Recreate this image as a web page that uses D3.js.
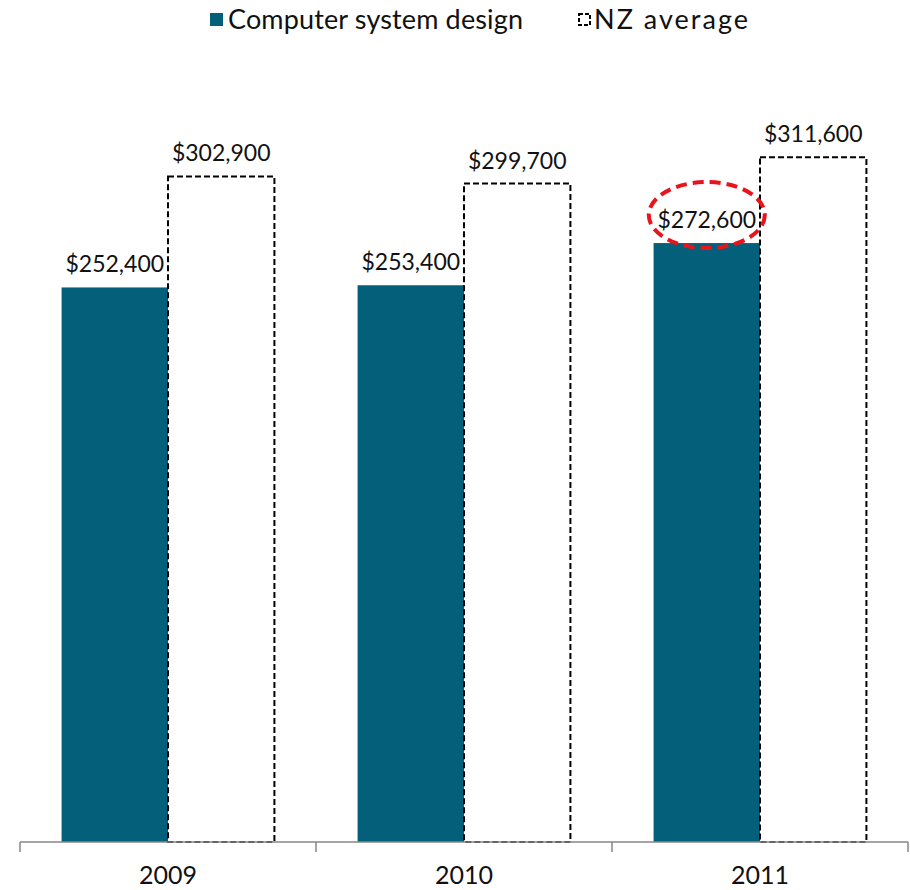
<!DOCTYPE html>
<html>
<head>
<meta charset="utf-8">
<script src="https://cdn.jsdelivr.net/npm/d3@7"></script>
<style>
  body { margin: 0; background: #fff; }
  svg { display: block; font-family: "Century Gothic", "Lato", "Noto Sans", sans-serif; }
</style>
</head>
<body>
<svg id="chart" width="910" height="890"></svg>
<script>
// Average annual earnings: computer system design vs NZ average
const years = ["2009", "2010", "2011"];
const seriesNames = ["Computer system design", "NZ average"];
const computerDesign = [252400, 253400, 272600];
const nzAverage = [302900, 299700, 311600];
const highlightYear = "2011";

const svg = d3.select("#chart");
const margin = { top: 73, right: 2, bottom: 48, left: 20 };
const width = 910, height = 890;
const plotBottom = height - margin.bottom;

const teal = "#04607a";

const x0 = d3.scaleBand()
  .domain(years)
  .range([margin.left, width - margin.right])
  .paddingInner(0.281)
  .paddingOuter(0.1405);

const x1 = d3.scaleBand()
  .domain(seriesNames)
  .range([0, x0.bandwidth()]);

const y = d3.scaleLinear()
  .domain([0, 350000])
  .range([plotBottom, margin.top]);

const fmt = v => "$" + d3.format(",")(v);

const rows = years.map((yr, i) => ({
  year: yr,
  values: [
    { key: seriesNames[0], value: computerDesign[i] },
    { key: seriesNames[1], value: nzAverage[i] }
  ]
}));

const groups = svg.append("g").selectAll("g")
  .data(rows)
  .join("g")
  .attr("transform", d => `translate(${x0(d.year)},0)`);

groups.selectAll("rect")
  .data(d => d.values)
  .join("rect")
  .attr("x", d => x1(d.key))
  .attr("y", d => y(d.value))
  .attr("width", x1.bandwidth())
  .attr("height", d => plotBottom - y(d.value))
  .attr("fill", d => d.key === seriesNames[0] ? teal : "#fff")
  .attr("stroke", d => d.key === seriesNames[0] ? "none" : "#000")
  .attr("stroke-width", 2)
  .attr("stroke-dasharray", d => d.key === seriesNames[0] ? null : "6,3");

groups.selectAll("text.val")
  .data(d => d.values)
  .join("text")
  .attr("class", "val")
  .attr("x", d => x1(d.key) + x1.bandwidth() / 2)
  .attr("y", d => y(d.value) - 15)
  .attr("text-anchor", "middle")
  .attr("font-size", 23)
  .attr("fill", "#111")
  .text(d => fmt(d.value));

// x axis
const ax = svg.append("g").attr("transform", `translate(0,${plotBottom})`);
ax.append("line")
  .attr("x1", margin.left).attr("x2", width - margin.right)
  .attr("stroke", "#868686").attr("stroke-width", 1.5);
const edges = [margin.left, ...years.slice(1).map(yr => x0(yr) - x0.step() * x0.paddingInner() / 2), width - margin.right];
ax.selectAll("line.tick")
  .data(edges)
  .join("line")
  .attr("class", "tick")
  .attr("x1", d => d).attr("x2", d => d)
  .attr("y1", 0).attr("y2", 10)
  .attr("stroke", "#868686").attr("stroke-width", 1.5);
ax.selectAll("text.cat")
  .data(years)
  .join("text")
  .attr("class", "cat")
  .attr("x", d => x0(d) + x0.bandwidth() / 2)
  .attr("y", 42)
  .attr("text-anchor", "middle")
  .attr("font-size", 25)
  .attr("fill", "#111")
  .text(d => d);

// highlight ring around the 2011 computer system design label
const hv = computerDesign[years.indexOf(highlightYear)];
svg.append("ellipse")
  .attr("cx", x0(highlightYear) + x1(seriesNames[0]) + x1.bandwidth() / 2)
  .attr("cy", y(hv) - 28)
  .attr("rx", 58)
  .attr("ry", 33)
  .attr("fill", "none")
  .attr("stroke", "#e8141c")
  .attr("stroke-width", 4)
  .attr("stroke-dasharray", "11,6");

// legend
const legend = svg.append("g");
legend.append("rect")
  .attr("x", 210).attr("y", 13).attr("width", 13).attr("height", 13)
  .attr("fill", teal);
legend.append("text")
  .attr("x", 228).attr("y", 29)
  .attr("font-size", 27).attr("fill", "#111")
  .attr("textLength", 295).attr("lengthAdjust", "spacing")
  .text(seriesNames[0]);
legend.append("rect")
  .attr("x", 579).attr("y", 14).attr("width", 11).attr("height", 11)
  .attr("fill", "#fff").attr("stroke", "#000").attr("stroke-width", 2)
  .attr("stroke-dasharray", "4,2");
legend.append("text")
  .attr("x", 594).attr("y", 29)
  .attr("font-size", 27).attr("fill", "#111")
  .attr("textLength", 154).attr("lengthAdjust", "spacing")
  .text(seriesNames[1]);
</script>
</body>
</html>
